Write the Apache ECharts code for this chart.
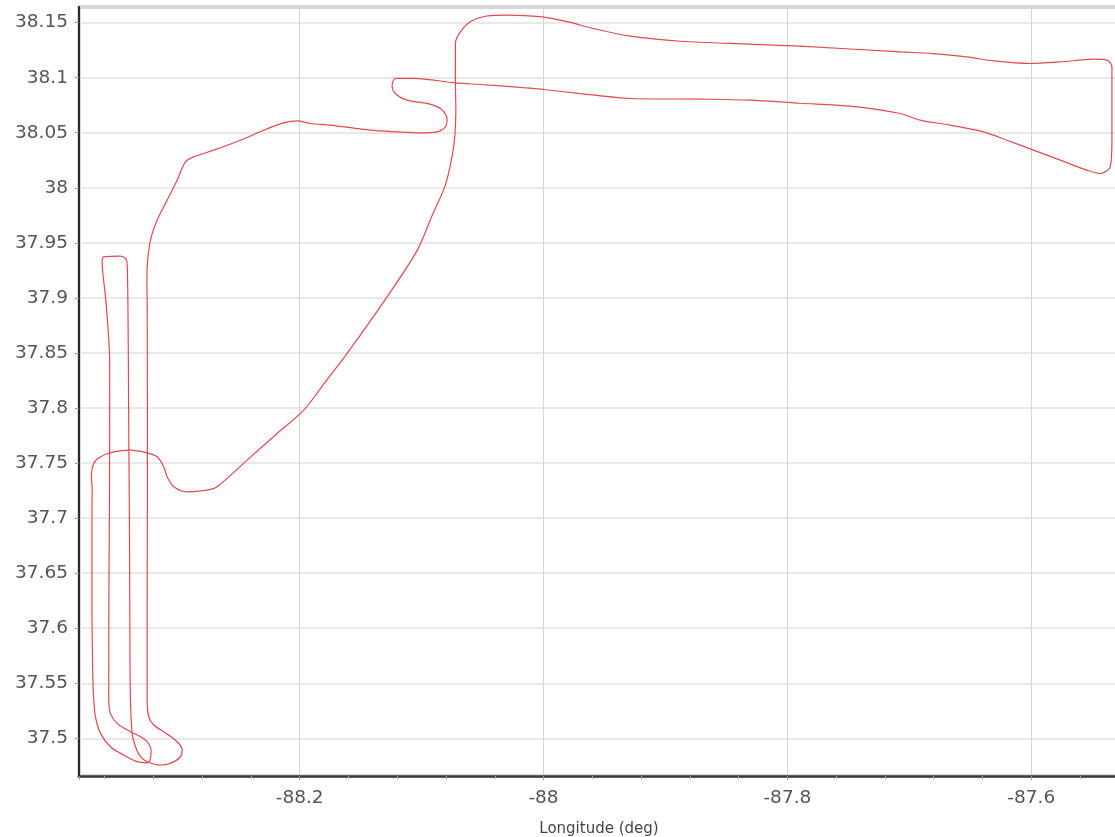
<!DOCTYPE html>
<html>
<head>
<meta charset="utf-8">
<script src="https://cdn.jsdelivr.net/npm/echarts@6/dist/echarts.min.js"></script>
<style>
html,body{margin:0;padding:0;background:#fff;}
#chart{width:1115px;height:837px;}
</style>
</head>
<body>
<div id="chart"></div>
<script>
// Track longitude (deg) in flight order
const longitude = [
-88.3702,-88.3704,-88.3704,-88.3696,-88.3689,-88.3675,-88.3634,-88.3552,-88.3443,-88.3333,
-88.3251,-88.3224,-88.3219,-88.3251,-88.3306,-88.3388,-88.3497,-88.3552,-88.3566,-88.3565,
-88.3560,-88.3558,-88.3571,-88.3593,-88.3620,-88.3607,-88.3470,-88.3429,-88.3415,-88.3407,
-88.3402,-88.3396,-88.3392,-88.3388,-88.3374,-88.3347,-88.3306,-88.3251,-88.3142,-88.3060,
-88.2978,-88.2964,-88.3005,-88.3115,-88.3197,-88.3238,-88.3251,-88.3251,-88.3249,-88.3249,
-88.3251,-88.3253,-88.3249,-88.3224,-88.3169,-88.3087,-88.3005,-88.2937,-88.2869,-88.2705,
-88.2486,-88.2295,-88.2131,-88.2021,-88.1912,-88.1748,-88.1420,-88.1201,-88.1010,-88.0873,
-88.0805,-88.0791,-88.0846,-88.0955,-88.1119,-88.1215,-88.1242,-88.1215,-88.1160,-88.1065,
-88.0723,-88.0518,-88.0245,-87.9999,-87.9698,-87.9288,-87.8714,-87.8304,-87.7894,-87.7484,
-87.7074,-87.6910,-87.6664,-87.6391,-87.6199,-87.5981,-87.5762,-87.5543,-87.5434,-87.5352,
-87.5338,-87.5338,-87.5338,-87.5379,-87.5489,-87.5762,-87.6008,-87.6309,-87.6527,-87.6804,
-87.7074,-87.7894,-87.8304,-87.8878,-87.9288,-87.9589,-87.9807,-88.0026,-88.0299,-88.0463,
-88.0600,-88.0682,-88.0723,-88.0723,-88.0719,-88.0727,-88.0748,-88.0805,-88.0912,-88.1035,
-88.1283,-88.1611,-88.1789,-88.1967,-88.2185,-88.2431,-88.2677,-88.2759,-88.2923,-88.3033,
-88.3087,-88.3115,-88.3169,-88.3251,-88.3388,-88.3525,-88.3634,-88.3689,-88.3708,-88.3702
];
// Track latitude (deg) in the same order
const latitude = [
37.7285,37.6891,37.6256,37.5529,37.5348,37.5196,37.5045,37.4924,37.4848,37.4788,
37.4778,37.4818,37.4894,37.4969,37.5015,37.5060,37.5136,37.5227,37.5348,37.6256,
37.7164,37.8405,37.8707,37.9010,37.9328,37.9373,37.9379,37.9358,37.9313,37.8707,
37.7799,37.6891,37.5802,37.5348,37.5045,37.4924,37.4833,37.4788,37.4758,37.4773,
37.4833,37.4894,37.4969,37.5060,37.5121,37.5196,37.5348,37.6256,37.7164,37.8072,
37.8980,37.9161,37.9316,37.9525,37.9706,37.9888,38.0069,38.0235,38.0281,38.0342,
38.0432,38.0523,38.0589,38.0607,38.0584,38.0569,38.0523,38.0508,38.0499,38.0508,
38.0553,38.0630,38.0720,38.0766,38.0796,38.0856,38.0932,38.0993,38.0993,38.0993,
38.0953,38.0938,38.0917,38.0893,38.0856,38.0811,38.0805,38.0796,38.0768,38.0741,
38.0675,38.0614,38.0569,38.0508,38.0432,38.0342,38.0251,38.0160,38.0130,38.0190,
38.0432,38.0796,38.1098,38.1159,38.1168,38.1143,38.1129,38.1152,38.1189,38.1219,
38.1234,38.1286,38.1304,38.1331,38.1377,38.1446,38.1509,38.1554,38.1569,38.1560,
38.1509,38.1416,38.1310,38.0977,38.0705,38.0478,38.0296,38.0024,37.9752,37.9434,
37.9010,37.8496,37.8238,37.7981,37.7769,37.7527,37.7285,37.7255,37.7239,37.7285,
37.7375,37.7466,37.7557,37.7593,37.7618,37.7602,37.7557,37.7497,37.7375,37.7285
];
const xAxisName = 'Longitude (deg)';

const points = longitude.map((lon, i) => [lon, latitude[i]]);

const chart = echarts.init(document.getElementById('chart'), null, {renderer: 'canvas'});
chart.setOption({
  backgroundColor: '#ffffff',
  animation: false,
  grid: {
    left: 79, right: -4, top: 7, bottom: 61,
    outerBoundsMode: 'none',
    containLabel: false,
    show: true, borderColor: '#b0b0b0', borderWidth: 3, backgroundColor: '#ffffff'
  },
  xAxis: {
    type: 'value',
    min: -88.381, max: -87.528,
    minInterval: 0.2, maxInterval: 0.2,
    name: xAxisName,
    nameLocation: 'middle',
    nameGap: 46,
    nameTextStyle: {color: '#444', fontSize: 15, fontFamily: 'DejaVu Sans'},
    axisLine: {show: true, onZero: false, lineStyle: {color: '#3a3a3a', width: 2.5}},
    axisTick: {show: true, length: 4, lineStyle: {color: '#999'}},
    minorTick: {show: true, splitNumber: 5, length: 3, lineStyle: {color: '#aaa'}},
    axisLabel: {color: '#555', fontSize: 18.5, fontFamily: 'DejaVu Sans', margin: 13,
      showMinLabel: false, showMaxLabel: false},
    splitLine: {show: true, lineStyle: {color: '#d4d4d4', width: 1}}
  },
  yAxis: {
    type: 'value',
    min: 37.4658, max: 38.1642,
    minInterval: 0.05, maxInterval: 0.05,
    axisLine: {show: true, onZero: false, lineStyle: {color: '#2a2a2a', width: 2}},
    axisTick: {show: true, length: 4, lineStyle: {color: '#999'}},
    axisLabel: {color: '#555', fontSize: 18.5, fontFamily: 'DejaVu Sans', margin: 11,
      showMinLabel: false, showMaxLabel: false},
    splitLine: {show: true, lineStyle: {color: '#e2e2e2', width: 1.5}}
  },
  series: [{
    type: 'line',
    data: points,
    showSymbol: false,
    smooth: 0.3,
    clip: true,
    lineStyle: {color: '#e8474f', width: 1.2},
    z: 3
  }]
});
</script>
</body>
</html>
